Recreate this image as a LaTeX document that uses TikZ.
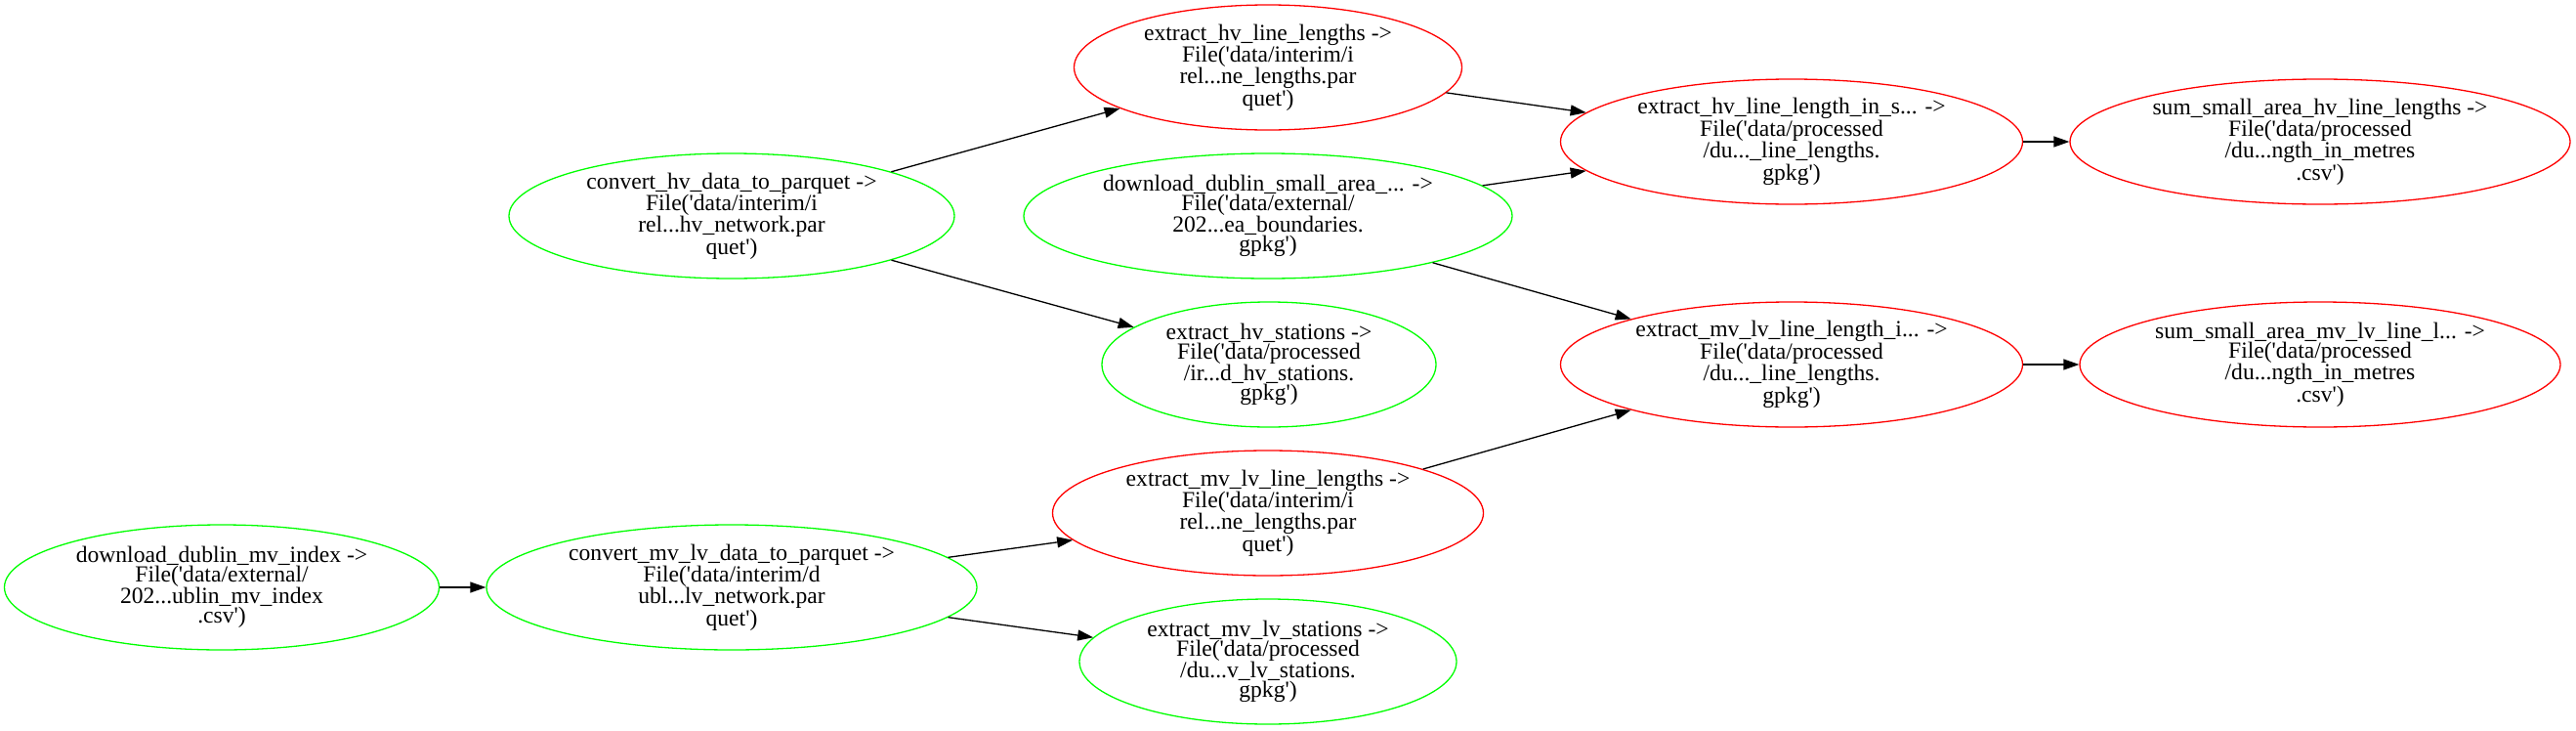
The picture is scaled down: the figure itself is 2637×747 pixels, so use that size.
\documentclass[tikz,border=0pt]{standalone}
\usepackage{fontspec}
\setmainfont{Liberation Serif}
\usetikzlibrary{shapes.geometric, arrows.meta, positioning}
\definecolor{taskgreen}{RGB}{0,255,0}
\definecolor{taskred}{RGB}{255,0,0}
\newcommand{\sq}{\textquotesingle}

\begin{document}
\begin{tikzpicture}[
        x=1pt, y=-1pt,
        task/.style={ellipse, draw, line width=1.3pt, inner xsep=-300pt, inner ysep=-100pt, minimum height=128pt, align=center, font=\fontsize{23.6}{20}\selectfont},
        fresh/.style={task, draw=taskgreen},
        stale/.style={task, draw=taskred},
        flow/.style={-{Triangle[length=16pt, width=11pt]}, line width=1.3pt}
    ]
        \useasboundingbox (0,0) rectangle (2637,747);
        \node[stale, minimum width=397pt] (hvlen) at (1298,69) {extract\_hv\_line\_lengths ->\\File(\sq data/interim/i\\rel...ne\_lengths.par\\quet\sq)};
        \node[fresh, minimum width=456pt] (convhv) at (749,221) {convert\_hv\_data\_to\_parquet ->\\File(\sq data/interim/i\\rel...hv\_network.par\\quet\sq)};
        \node[fresh, minimum width=500pt] (smallarea) at (1298,221) {download\_dublin\_small\_area\_... ->\\File(\sq data/external/\\202...ea\_boundaries.\\gpkg\sq)};
        \node[stale, minimum width=473pt] (hvsa) at (1834,145) {extract\_hv\_line\_length\_in\_s... ->\\File(\sq data/processed\\/du...\_line\_lengths.\\gpkg\sq)};
        \node[stale, minimum width=512pt] (sumhv) at (2375,145) {sum\_small\_area\_hv\_line\_lengths ->\\File(\sq data/processed\\/du...ngth\_in\_metres\\.csv\sq)};
        \node[fresh, minimum width=342pt] (hvstat) at (1299,373) {extract\_hv\_stations ->\\File(\sq data/processed\\/ir...d\_hv\_stations.\\gpkg\sq)};
        \node[stale, minimum width=473pt] (mvsa) at (1834,373) {extract\_mv\_lv\_line\_length\_i... ->\\File(\sq data/processed\\/du...\_line\_lengths.\\gpkg\sq)};
        \node[stale, minimum width=492pt] (summv) at (2375,373) {sum\_small\_area\_mv\_lv\_line\_l... ->\\File(\sq data/processed\\/du...ngth\_in\_metres\\.csv\sq)};
        \node[stale, minimum width=441pt] (mvlen) at (1298,525) {extract\_mv\_lv\_line\_lengths ->\\File(\sq data/interim/i\\rel...ne\_lengths.par\\quet\sq)};
        \node[fresh, minimum width=445pt] (mvindex) at (227,601) {download\_dublin\_mv\_index ->\\File(\sq data/external/\\202...ublin\_mv\_index\\.csv\sq)};
        \node[fresh, minimum width=502pt] (convmv) at (749,601) {convert\_mv\_lv\_data\_to\_parquet ->\\File(\sq data/interim/d\\ubl...lv\_network.par\\quet\sq)};
        \node[fresh, minimum width=386pt] (mvstat) at (1298,677) {extract\_mv\_lv\_stations ->\\File(\sq data/processed\\/du...v\_lv\_stations.\\gpkg\sq)};
        \draw[flow] (convhv) -- (hvlen);
        \draw[flow] (convhv) -- (hvstat);
        \draw[flow] (hvlen) -- (hvsa);
        \draw[flow] (smallarea) -- (hvsa);
        \draw[flow] (smallarea) -- (mvsa);
        \draw[flow] (hvsa) -- (sumhv);
        \draw[flow] (mvsa) -- (summv);
        \draw[flow] (mvindex) -- (convmv);
        \draw[flow] (convmv) -- (mvlen);
        \draw[flow] (convmv) -- (mvstat);
        \draw[flow] (mvlen) -- (mvsa);
    \end{tikzpicture}
\end{document}
